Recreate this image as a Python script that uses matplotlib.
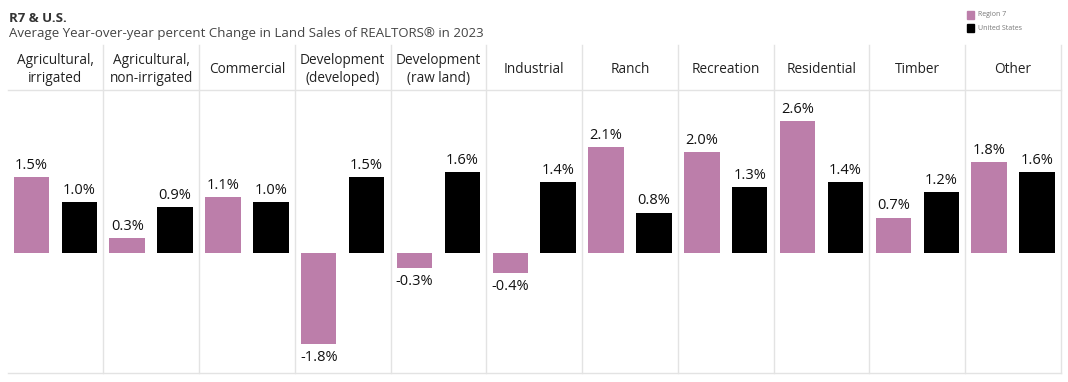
import matplotlib.pyplot as plt
import numpy as np

# data
categories = ["Agricultural,\nirrigated", "Agricultural,\nnon-irrigated", "Commercial",
              "Development\n(developed)", "Development\n(raw land)", "Industrial", "Ranch",
              "Recreation", "Residential", "Timber", "Other"]
region7 = [1.5, 0.3, 1.1, -1.8, -0.3, -0.4, 2.1, 2.0, 2.6, 0.7, 1.8]
us = [1.0, 0.9, 1.0, 1.5, 1.6, 1.4, 0.8, 1.3, 1.4, 1.2, 1.6]

pink = "#bc7eaa"
W, H = 1068, 382
plt.rcParams['font.family'] = ['Open Sans', 'DejaVu Sans']

fig = plt.figure(figsize=(W / 100, H / 100), dpi=100)

# plot area in pixels: x 7..1061, y 90..373
x0, x1, ytop, ybot = 7.5, 1061, 90, 373
ax = fig.add_axes([x0 / W, (H - ybot) / H, (x1 - x0) / W, (ybot - ytop) / H])
n = len(categories)
x = np.arange(n)
ax.bar(x - 0.25, region7, width=0.37, color=pink)
ax.bar(x + 0.25, us, width=0.37, color="black")
ax.set_xlim(-0.5, n - 0.5)
ax.set_ylim(-2.37, 3.22)
ax.axis("off")

for i in range(n):
    for off, v in ((-0.25, region7[i]), (0.25, us[i])):
        ax.annotate(f"{v:.1f}%", (i + off, v), xytext=(0, 3 if v >= 0 else -4),
                    textcoords="offset points", ha="center",
                    va="bottom" if v >= 0 else "top", fontsize=10.5, color="#111111")

# header / grid lines drawn in figure pixels
def fx(px):
    return px / W

def fy(py):
    return (H - py) / H

line_c = "#e3e3e3"
fig.add_artist(plt.Line2D([fx(x0), fx(x1)], [fy(ytop), fy(ytop)], color=line_c, lw=1))
fig.add_artist(plt.Line2D([fx(x0), fx(x1)], [fy(ybot), fy(ybot)], color=line_c, lw=1))
pw = (x1 - x0) / n
for i in range(1, n):
    xs = x0 + i * pw
    fig.add_artist(plt.Line2D([fx(xs), fx(xs)], [fy(45), fy(ybot)], color=line_c, lw=1))
fig.add_artist(plt.Line2D([fx(x1), fx(x1)], [fy(45), fy(ybot)], color=line_c, lw=1))

for i, c in enumerate(categories):
    fig.text(fx(x0 + (i + 0.5) * pw), fy(69.5), c, ha="center", va="center",
             fontsize=9.8, color="#222222", linespacing=1.35)

fig.text(fx(9), fy(18), "R7 & U.S.", fontsize=9.5, fontweight="bold", color="#333333",
         va="center", ha="left")
fig.text(fx(9), fy(33), "Average Year-over-year percent Change in Land Sales of REALTORS\u00ae in 2023",
         fontsize=9.5, color="#444444", va="center", ha="left")

# legend
for py, col, lab in ((15, pink, "Region 7"), (28, "black", "United States")):
    fig.patches.append(plt.Rectangle((fx(967), fy(py + 3.5)), 7 / W, 7 / H, color=col,
                                     transform=fig.transFigure, figure=fig))
    fig.text(fx(978), fy(py), lab, fontsize=5, color="#777777", va="center", ha="left")

fig.savefig("out.png", dpi=100)
